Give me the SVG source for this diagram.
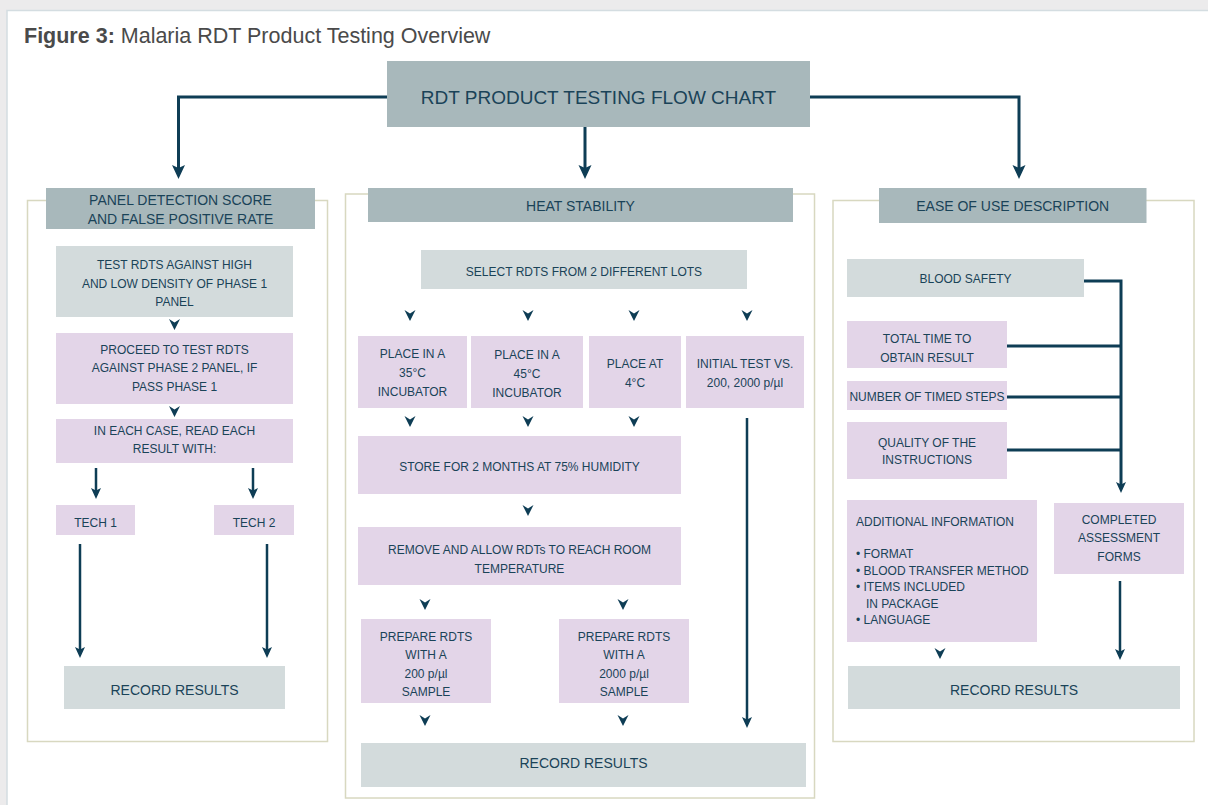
<svg xmlns="http://www.w3.org/2000/svg" xmlns:xlink="http://www.w3.org/1999/xlink" width="1208" height="805" viewBox="0 0 1208 805">
<style>
.t{font-family:'Liberation Sans',Arial,sans-serif;font-size:12px;fill:#1a4358;text-anchor:middle}
.l{text-anchor:start}
.h{font-size:14px}
.top{font-size:19px}
.ttl{font-family:'Liberation Sans',Arial,sans-serif;font-size:21.5px;fill:#4a4a4a}
.hd{fill:#a8b8bb}
.gr{fill:#d3dbdc}
.li{fill:#e3d5e8}
.pn{fill:none;stroke:#d8d8c0;stroke-width:1.5}
.cn{fill:none;stroke:#0e3d55;stroke-width:3}
.cs{fill:none;stroke:#0e3d55;stroke-width:2.5}
.ch{fill:#0e3d55}
</style>
<defs>
<marker id="ah" markerUnits="userSpaceOnUse" markerWidth="14" markerHeight="14" viewBox="0 0 14 14" refX="6" refY="6.5" orient="auto">
<path d="M0,0 L14,6.5 L0,13 L3,6.5 Z" fill="#0e3d55"/>
</marker>
<marker id="as" markerUnits="userSpaceOnUse" markerWidth="12" markerHeight="12" viewBox="0 0 12 12" refX="5" refY="5" orient="auto">
<path d="M0,0 L11,5 L0,10 L2.5,5 Z" fill="#0e3d55"/>
</marker>
<path id="chev" d="M-5.5,-11 L0,-7.5 L5.5,-11 L0,0 Z"/>
</defs>

<rect x="0" y="0" width="1208" height="805" fill="#ecebec"/>
<rect x="7" y="10.5" width="1202" height="796" fill="#ffffff" stroke="#d4dde1" stroke-width="1.5"/>

<text class="ttl" x="24" y="43"><tspan font-weight="bold">Figure 3:</tspan> Malaria RDT Product Testing Overview</text>

<g id="panels">
<rect class="pn" x="27.5" y="200.5" width="300" height="541"/>
<rect class="pn" x="345.5" y="194" width="469" height="604"/>
<rect class="pn" x="833" y="200.5" width="361" height="541"/>
</g>

<g id="root">
<rect class="hd" x="387" y="61" width="423" height="66"/>
<text class="t top" x="598.5" y="104">RDT PRODUCT TESTING FLOW CHART</text>
</g>

<g id="hdr-panel">
<rect class="hd" x="46" y="188" width="269" height="41"/>
<text class="t h" x="180.5" y="205">PANEL DETECTION SCORE</text>
<text class="t h" x="180.5" y="224">AND FALSE POSITIVE RATE</text>
</g>
<g id="hdr-heat">
<rect class="hd" x="368" y="188" width="425" height="34"/>
<text class="t h" x="580.5" y="211">HEAT STABILITY</text>
</g>
<g id="hdr-ease">
<rect class="hd" x="879" y="188" width="267.5" height="35"/>
<text class="t h" x="1012.7" y="211">EASE OF USE DESCRIPTION</text>
</g>

<g id="l-test">
<rect class="gr" x="56" y="246" width="237" height="71"/>
<text class="t" x="174.5" y="269">TEST RDTS AGAINST HIGH</text>
<text class="t" x="174.5" y="288">AND LOW DENSITY OF PHASE 1</text>
<text class="t" x="174.5" y="306">PANEL</text>
</g>
<g id="l-proceed">
<rect class="li" x="56" y="333" width="237" height="71"/>
<text class="t" x="174.5" y="354">PROCEED TO TEST RDTS</text>
<text class="t" x="174.5" y="372">AGAINST PHASE 2 PANEL, IF</text>
<text class="t" x="174.5" y="391">PASS PHASE 1</text>
</g>
<g id="l-read">
<rect class="li" x="56" y="419" width="237" height="44"/>
<text class="t" x="174.5" y="435">IN EACH CASE, READ EACH</text>
<text class="t" x="174.5" y="453">RESULT WITH:</text>
</g>
<g id="l-tech1">
<rect class="li" x="56" y="505" width="79" height="30"/>
<text class="t" x="95.5" y="527">TECH 1</text>
</g>
<g id="l-tech2">
<rect class="li" x="214" y="505" width="80" height="30"/>
<text class="t" x="254" y="527">TECH 2</text>
</g>
<g id="l-record">
<rect class="gr" x="64" y="666" width="221" height="43"/>
<text class="t h" x="174.5" y="695">RECORD RESULTS</text>
</g>

<g id="m-select">
<rect class="gr" x="421" y="250" width="326" height="39"/>
<text class="t" x="584" y="276">SELECT RDTS FROM 2 DIFFERENT LOTS</text>
</g>
<g id="m-35">
<rect class="li" x="358" y="336" width="109" height="72"/>
<text class="t" x="412.5" y="358">PLACE IN A</text>
<text class="t" x="412.5" y="377">35°C</text>
<text class="t" x="412.5" y="396">INCUBATOR</text>
</g>
<g id="m-45">
<rect class="li" x="471" y="336" width="112" height="72"/>
<text class="t" x="527" y="359">PLACE IN A</text>
<text class="t" x="527" y="378">45°C</text>
<text class="t" x="527" y="397">INCUBATOR</text>
</g>
<g id="m-4">
<rect class="li" x="589" y="336" width="92" height="72"/>
<text class="t" x="635" y="368">PLACE AT</text>
<text class="t" x="635" y="387">4°C</text>
</g>
<g id="m-initial">
<rect class="li" x="686" y="336" width="118" height="72"/>
<text class="t" x="745" y="368">INITIAL TEST VS.</text>
<text class="t" x="745" y="387">200, 2000 p/µl</text>
</g>
<g id="m-store">
<rect class="li" x="358" y="436" width="323" height="58"/>
<text class="t" x="519.5" y="471">STORE FOR 2 MONTHS AT 75% HUMIDITY</text>
</g>
<g id="m-remove">
<rect class="li" x="358" y="527" width="323" height="58"/>
<text class="t" x="519.5" y="554">REMOVE AND ALLOW RDTs TO REACH ROOM</text>
<text class="t" x="519.5" y="573">TEMPERATURE</text>
</g>
<g id="m-prep200">
<rect class="li" x="361" y="619" width="130" height="84"/>
<text class="t" x="426" y="641">PREPARE RDTS</text>
<text class="t" x="426" y="659">WITH A</text>
<text class="t" x="426" y="678">200 p/µl</text>
<text class="t" x="426" y="696">SAMPLE</text>
</g>
<g id="m-prep2000">
<rect class="li" x="559" y="619" width="130" height="84"/>
<text class="t" x="624" y="641">PREPARE RDTS</text>
<text class="t" x="624" y="659">WITH A</text>
<text class="t" x="624" y="678">2000 p/µl</text>
<text class="t" x="624" y="696">SAMPLE</text>
</g>
<g id="m-record">
<rect class="gr" x="361" y="743" width="445" height="44"/>
<text class="t h" x="583.5" y="768">RECORD RESULTS</text>
</g>

<g id="r-blood">
<rect class="gr" x="847" y="259" width="237" height="38"/>
<text class="t" x="965.5" y="283">BLOOD SAFETY</text>
</g>
<g id="r-time">
<rect class="li" x="847" y="321" width="160" height="47"/>
<text class="t" x="927" y="343">TOTAL TIME TO</text>
<text class="t" x="927" y="362">OBTAIN RESULT</text>
</g>
<g id="r-steps">
<rect class="li" x="847" y="381" width="160" height="29"/>
<text class="t" x="927" y="401">NUMBER OF TIMED STEPS</text>
</g>
<g id="r-quality">
<rect class="li" x="847" y="422" width="160" height="57"/>
<text class="t" x="927" y="447">QUALITY OF THE</text>
<text class="t" x="927" y="464">INSTRUCTIONS</text>
</g>
<g id="r-additional">
<rect class="li" x="847" y="500" width="190" height="142"/>
<text class="t l" x="856" y="526">ADDITIONAL INFORMATION</text>
<text class="t l" x="856" y="558">• FORMAT</text>
<text class="t l" x="856" y="575">• BLOOD TRANSFER METHOD</text>
<text class="t l" x="856" y="591">• ITEMS INCLUDED</text>
<text class="t l" x="866" y="608">IN PACKAGE</text>
<text class="t l" x="856" y="624">• LANGUAGE</text>
</g>
<g id="r-completed">
<rect class="li" x="1054" y="503" width="130" height="71"/>
<text class="t" x="1119" y="524">COMPLETED</text>
<text class="t" x="1119" y="542">ASSESSMENT</text>
<text class="t" x="1119" y="561">FORMS</text>
</g>
<g id="r-record">
<rect class="gr" x="848" y="666" width="332" height="43"/>
<text class="t h" x="1014" y="695">RECORD RESULTS</text>
</g>

<g id="connectors">
<path class="cn" d="M387,97 H178.5 V171" marker-end="url(#ah)"/>
<path class="cn" d="M585,127 V171" marker-end="url(#ah)"/>
<path class="cn" d="M810,97 H1019 V171" marker-end="url(#ah)"/>
<path class="cs" d="M96,468 V493" marker-end="url(#as)"/>
<path class="cs" d="M253,468 V493" marker-end="url(#as)"/>
<path class="cs" d="M80,544 V652" marker-end="url(#as)"/>
<path class="cs" d="M267,544 V652" marker-end="url(#as)"/>
<path class="cs" d="M747,418 V722" marker-end="url(#as)"/>
<path class="cn" d="M1084,281 H1121 V487" marker-end="url(#as)"/>
<path class="cn" d="M1007,346 H1121"/>
<path class="cn" d="M1007,397 H1121"/>
<path class="cn" d="M1007,450 H1121"/>
<path class="cs" d="M1120,581 V654" marker-end="url(#as)"/>
<use xlink:href="#chev" class="ch" x="174.5" y="330"/>
<use xlink:href="#chev" class="ch" x="174.5" y="417"/>
<use xlink:href="#chev" class="ch" x="410" y="321"/>
<use xlink:href="#chev" class="ch" x="528" y="321"/>
<use xlink:href="#chev" class="ch" x="634" y="321"/>
<use xlink:href="#chev" class="ch" x="747" y="321"/>
<use xlink:href="#chev" class="ch" x="410" y="427"/>
<use xlink:href="#chev" class="ch" x="528" y="427"/>
<use xlink:href="#chev" class="ch" x="634" y="427"/>
<use xlink:href="#chev" class="ch" x="528" y="516"/>
<use xlink:href="#chev" class="ch" x="425" y="610"/>
<use xlink:href="#chev" class="ch" x="623" y="610"/>
<use xlink:href="#chev" class="ch" x="425" y="726"/>
<use xlink:href="#chev" class="ch" x="623" y="726"/>
<use xlink:href="#chev" class="ch" x="940" y="659"/>
</g>
</svg>
